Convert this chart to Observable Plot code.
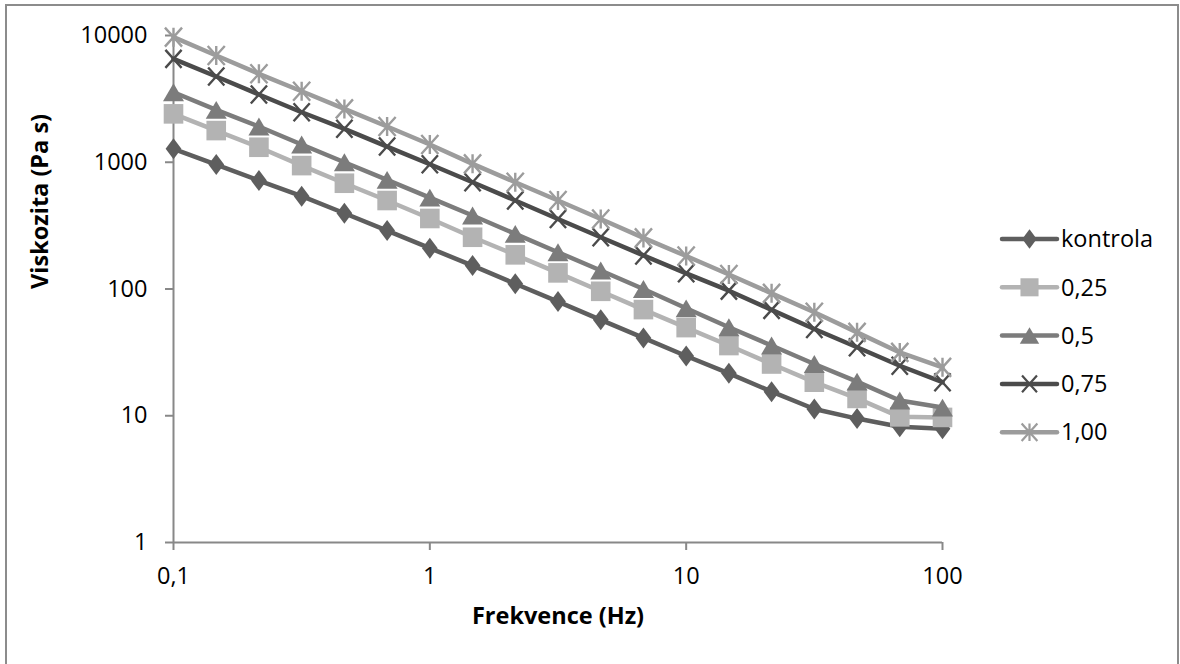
<!DOCTYPE html>
<html><head><meta charset="utf-8">
<script src="https://cdn.jsdelivr.net/npm/d3@7"></script>
<script src="https://cdn.jsdelivr.net/npm/@observablehq/plot@0.6"></script>
<style>
html,body{margin:0;padding:0;background:#fff;}
#wrap{position:relative;width:1180px;height:664px;overflow:hidden;font-family:"Open Sans",sans-serif;}
#border{position:absolute;left:5px;top:4px;width:1174px;height:720px;border:2px solid #8c8c8c;box-sizing:border-box;}
#chart{position:absolute;left:0;top:0;}
#legend{position:absolute;left:0;top:0;}
</style></head><body>
<div id="wrap"><div id="border"></div><div id="chart"></div><svg id="legend" width="1180" height="664"></svg></div>
<script>
// ---- data ----
const freq = [0.1, 0.1468, 0.2154, 0.3162, 0.4642, 0.6813, 1, 1.468, 2.154, 3.162, 4.642, 6.813, 10, 14.68, 21.54, 31.62, 46.42, 68.13, 100];
const seriesNames = ["kontrola", "0,25", "0,5", "0,75", "1,00"];
const kontrola = [1276, 959, 717, 540, 396, 289, 210, 153, 110, 79.6, 57.1, 41.1, 29.6, 21.6, 15.5, 11.3, 9.5, 8.2, 7.9];
const c025 = [2409, 1778, 1313, 941, 683, 499, 360, 256, 186, 134, 95.9, 68.8, 49.6, 35.8, 25.6, 18.4, 13.7, 9.8, 9.7];
const c05 = [3566, 2593, 1915, 1380, 1000, 727, 526, 380, 272, 195, 140, 100, 70.4, 49.9, 35.8, 25.6, 18.6, 13.2, 11.6];
const c075 = [6546, 4746, 3422, 2481, 1836, 1330, 965, 695, 499, 357, 256, 184, 133, 97, 68.4, 48.4, 34.7, 24.8, 18.4];
const c100 = [9704, 6953, 4985, 3634, 2635, 1915, 1380, 971, 695, 499, 357, 253, 182, 130, 92.4, 65.5, 45.5, 31.6, 24.1];
const xTicks = [0.1, 1, 10, 100];
const xTickLabels = ["0,1", "1", "10", "100"];
const yTicks = [1, 10, 100, 1000, 10000];
const yTickLabels = ["1", "10", "100", "1000", "10000"];
const xTitle = "Frekvence (Hz)";
const yTitle = "Viskozita (Pa s)";

// ---- marker shapes ----
const rad = (s) => Math.sqrt(s / Math.PI);
const symDiamond = {draw(c, s){const r = rad(s); c.moveTo(0,-r); c.lineTo(0.75*r,0); c.lineTo(0,r); c.lineTo(-0.75*r,0); c.closePath();}};
const symSquare = {draw(c, s){const r = rad(s); c.moveTo(-r,-r); c.lineTo(r,-r); c.lineTo(r,r); c.lineTo(-r,r); c.closePath();}};
const symTriangle = {draw(c, s){const r = rad(s); c.moveTo(0,-0.85*r); c.lineTo(r,0.85*r); c.lineTo(-r,0.85*r); c.closePath();}};
const symTimes = {draw(c, s){const r = rad(s); c.moveTo(-0.9*r,-r); c.lineTo(0.9*r,r); c.moveTo(0.9*r,-r); c.lineTo(-0.9*r,r);}};
const symStar = {draw(c, s){const r = rad(s); c.moveTo(-0.9*r,-r); c.lineTo(0.9*r,r); c.moveTo(0.9*r,-r); c.lineTo(-0.9*r,r); c.moveTo(0,-r); c.lineTo(0,r);}};

const styles = [
  {values: kontrola, color: "#5e5e5e", symbol: symDiamond, r: 10.5, filled: true},
  {values: c025, color: "#b3b3b3", symbol: symSquare, r: 9.8, filled: true},
  {values: c05, color: "#7c7c7c", symbol: symTriangle, r: 10.5, filled: true},
  {values: c075, color: "#4b4b4b", symbol: symTimes, r: 9, filled: false},
  {values: c100, color: "#9c9c9c", symbol: symStar, r: 9.5, filled: false}
];

const marks = [];
styles.forEach((st) => {
  const rows = freq.map((f, i) => ({x: f, y: st.values[i]}));
  marks.push(Plot.line(rows, {x: "x", y: "y", stroke: st.color, strokeWidth: 4.5, strokeLinejoin: "round", strokeLinecap: "round"}));
  marks.push(Plot.dot(rows, st.filled
    ? {x: "x", y: "y", r: st.r, symbol: st.symbol, fill: st.color, stroke: "none"}
    : {x: "x", y: "y", r: st.r, symbol: st.symbol, fill: "none", stroke: st.color, strokeWidth: 2.4}));
});

const font = "'Open Sans', sans-serif";
const fs = 23.5;
const chart = Plot.plot({
  width: 1180, height: 664,
  marginLeft: 173, marginRight: 238, marginTop: 35, marginBottom: 122,
  style: {fontFamily: font, background: "transparent", color: "#000"},
  x: {type: "log", domain: [0.1, 100]},
  y: {type: "log", domain: [1, 10000]},
  marks: [
    Plot.axisX({ticks: xTicks, tickFormat: (d) => xTickLabels[xTicks.indexOf(d)], tickSize: 8, tickPadding: 17, stroke: "#888", strokeWidth: 2, fontSize: fs, fill: "#000", label: null}),
    Plot.axisY({ticks: yTicks, tickFormat: (d) => yTickLabels[yTicks.indexOf(d)], tickSize: 8, tickPadding: 18, stroke: "#888", strokeWidth: 2, fontSize: fs, fill: "#000", label: null}),
    Plot.ruleY([1], {stroke: "#888", strokeWidth: 2}),
    Plot.ruleX([0.1], {stroke: "#888", strokeWidth: 2}),
    ...marks,
    Plot.text([xTitle], {frameAnchor: "bottom", dy: 74, text: (d) => d, fontSize: fs, fontWeight: "bold", fill: "#000", lineAnchor: "middle"}),
    Plot.text([yTitle], {frameAnchor: "left", dx: -133, rotate: -90, text: (d) => d, fontSize: fs, fontWeight: "bold", fill: "#000", lineAnchor: "middle"})
  ]
});
document.getElementById("chart").appendChild(chart);

// ---- legend ----
const leg = d3.select("#legend");
const legX0 = 1002, legX1 = 1057, legY0 = 239, legDY = 48.3;
styles.forEach((st, i) => {
  const y = legY0 + i * legDY;
  const g = leg.append("g");
  g.append("line").attr("x1", legX0).attr("x2", legX1).attr("y1", y).attr("y2", y)
    .attr("stroke", st.color).attr("stroke-width", 4.5).attr("stroke-linecap", "round");
  const p = d3.path();
  st.symbol.draw(p, st.r * st.r * Math.PI * 0.85);
  g.append("path").attr("d", p.toString()).attr("transform", `translate(${(legX0 + legX1) / 2},${y})`)
    .attr("fill", st.filled ? st.color : "none").attr("stroke", st.filled ? "none" : st.color).attr("stroke-width", 2.2);
  g.append("text").attr("x", legX1 + 4).attr("y", y).attr("dy", "0.35em")
    .attr("font-family", font).attr("font-size", fs).attr("fill", "#000").text(seriesNames[i]);
});
</script>
</body></html>
